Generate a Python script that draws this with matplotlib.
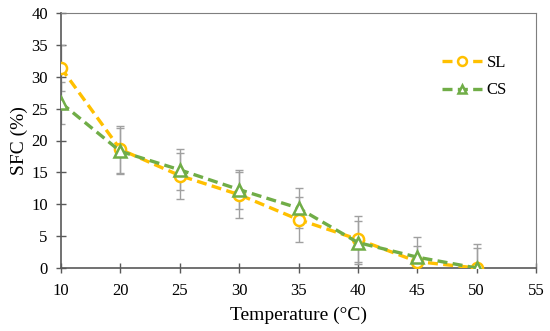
import numpy as np
import matplotlib
matplotlib.use("Agg")
import matplotlib.pyplot as plt

plt.rcParams['font.family'] = ['Liberation Serif', 'DejaVu Serif']

# Datos
temperaturas = ["10", "20", "25", "30", "35", "40", "45", "50", "55"]
sl = [31.4, 18.6, 14.5, 11.5, 7.6, 4.5, 1.0, 0.0]
cs = [25.9, 18.3, 15.4, 12.3, 9.4, 4.0, 1.7, 0.0]
sl_err = [3.6, 3.7, 3.6, 3.6, 3.5, 3.6, 2.5, 3.7]
cs_err = [3.3, 3.6, 3.2, 3.1, 3.1, 3.4, 3.2, 3.2]

color_sl = "#FFC000"
color_cs = "#70AD47"
color_err = "#A0A0A0"

x = np.arange(len(sl))

fig = plt.figure(figsize=(5.5, 3.31), dpi=100)
ax = fig.add_axes([61 / 550, 63 / 331, 475 / 550, 255 / 331])

# Barras de error
ax.errorbar(x, sl, yerr=sl_err, fmt='none', ecolor=color_err, elinewidth=1,
            capsize=3, capthick=1, zorder=2)
ax.errorbar(x, cs, yerr=cs_err, fmt='none', ecolor=color_err, elinewidth=1,
            capsize=3, capthick=1, zorder=2)

# Series
ax.plot(x, sl, '--', color=color_sl, lw=2.4, dashes=(3, 1.6), marker='o', ms=8,
        mfc='white', mec=color_sl, mew=1.8, label="SL", zorder=3)
ax.plot(x, cs, '--', color=color_cs, lw=2.4, dashes=(3, 1.6), marker='^', ms=8,
        mfc='white', mec=color_cs, mew=1.8, label="CS", zorder=4)

ax.set_xlim(0, len(temperaturas) - 1)
ax.set_ylim(0, 40)
ax.set_xticks(np.arange(len(temperaturas)))
ax.set_xticklabels(temperaturas)
ax.set_yticks(np.arange(0, 41, 5))

ax.tick_params(axis='both', direction='inout', length=7, width=1, color='#595959',
               labelsize=12, labelcolor='black')
ax.tick_params(axis='x', pad=7)
ax.tick_params(axis='y', pad=6)

for lado in ['left', 'bottom']:
    ax.spines[lado].set_color('#595959')
    ax.spines[lado].set_linewidth(1.2)
for lado in ['top', 'right']:
    ax.spines[lado].set_color('#7F7F7F')
    ax.spines[lado].set_linewidth(0.8)

ax.set_xlabel("Temperature (°C)", fontsize=14, labelpad=6)
ax.set_ylabel("SFC (%)", fontsize=14, labelpad=2)

ax.legend(loc='upper left', bbox_to_anchor=(0.77, 0.895), frameon=False,
          fontsize=12, handlelength=2.4, labelspacing=0.7, handletextpad=0.3,
          markerscale=0.8)

fig.savefig("out.png", dpi=100)
